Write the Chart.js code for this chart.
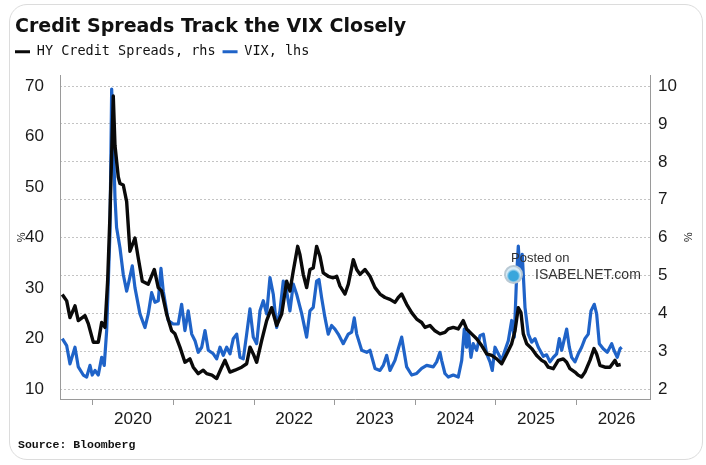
<!DOCTYPE html>
<html>
<head>
<meta charset="utf-8">
<script src="https://cdn.jsdelivr.net/npm/chart.js@4.4.1/dist/chart.umd.min.js"></script>
<style>
  html, body { margin: 0; padding: 0; background: #fff; }
  body { width: 706px; height: 465px; position: relative; overflow: hidden; }
  .card { position: absolute; left: 9px; top: 4px; width: 692px; height: 454px; border: 1px solid #dcdcdc; border-radius: 18px; }
  #chart { position: absolute; left: 0; top: 0; }
  .title { position: absolute; left: 15px; top: 14px; line-height: 24px; font: bold 19px "DejaVu Sans", sans-serif; color: #111; white-space: nowrap; }
  .source { position: absolute; left: 18px; top: 438px; line-height: 16px; font: bold 11.5px "Liberation Mono", monospace; color: #111; }
  .mark1 { position: absolute; left: 511px; top: 250px; font: 13px "Liberation Sans", sans-serif; color: #333; }
  .mark2 { position: absolute; left: 535px; top: 266px; font: 14px "Liberation Sans", sans-serif; color: #333; }
  .logo { position: absolute; left: 504px; top: 265px; width: 15px; height: 15px; border-radius: 50%;
          border: 2px solid #b9c9d4; background: radial-gradient(circle at 50% 60%, #3aa6dc 0 40%, #d8ecf7 60%); }
</style>
</head>
<body>
<div class="card"></div>
<canvas id="chart" width="706" height="465"></canvas>
<div class="title">Credit Spreads Track the VIX Closely</div>
<div class="source">Source: Bloomberg</div>
<div class="logo"></div>
<div class="mark1">Posted on</div>
<div class="mark2">ISABELNET.com</div>
<script>
// HY credit spreads (%, right axis), sampled by decimal year
const hyYears = [
    2019.619, 2019.674, 2019.715, 2019.777, 2019.818, 2019.901, 2019.942, 2020.004, 2020.066, 2020.108,
    2020.149, 2020.182, 2020.211, 2020.252, 2020.273, 2020.314, 2020.335, 2020.376, 2020.418, 2020.459,
    2020.521, 2020.562, 2020.612, 2020.686, 2020.761, 2020.810, 2020.852, 2020.914, 2020.976, 2021.017,
    2021.079, 2021.141, 2021.203, 2021.244, 2021.306, 2021.368, 2021.411, 2021.476, 2021.535, 2021.597,
    2021.638, 2021.700, 2021.762, 2021.845, 2021.907, 2021.948, 2021.989, 2022.031, 2022.093, 2022.155,
    2022.217, 2022.279, 2022.341, 2022.403, 2022.444, 2022.485, 2022.540, 2022.568, 2022.609, 2022.651,
    2022.692, 2022.733, 2022.775, 2022.816, 2022.857, 2022.919, 2022.981, 2023.024, 2023.065, 2023.127,
    2023.168, 2023.230, 2023.272, 2023.313, 2023.375, 2023.437, 2023.499, 2023.561, 2023.623, 2023.685,
    2023.747, 2023.788, 2023.830, 2023.892, 2023.954, 2024.016, 2024.078, 2024.119, 2024.181, 2024.243,
    2024.305, 2024.367, 2024.408, 2024.470, 2024.532, 2024.594, 2024.636, 2024.698, 2024.760, 2024.822,
    2024.885, 2024.947, 2025.009, 2025.071, 2025.133, 2025.195, 2025.236, 2025.277, 2025.310, 2025.339,
    2025.381, 2025.443, 2025.505, 2025.567, 2025.608, 2025.649, 2025.711, 2025.773, 2025.835, 2025.877,
    2025.918, 2025.980, 2026.021, 2026.063, 2026.104, 2026.166, 2026.216, 2026.249, 2026.290, 2026.352,
    2026.414, 2026.477, 2026.505, 2026.547
];
const hySpread = [
    4.50, 4.33, 3.89, 4.20, 3.81, 3.94, 3.73, 3.24, 3.24, 3.76,
    3.63, 4.85, 6.60, 9.74, 8.44, 7.60, 7.43, 7.39, 6.95, 5.64,
    5.99, 5.46, 4.85, 4.77, 5.16, 4.68, 4.59, 3.98, 3.54, 3.46,
    3.11, 2.71, 2.80, 2.58, 2.41, 2.50, 2.41, 2.37, 2.28, 2.58,
    2.76, 2.45, 2.50, 2.58, 2.67, 3.11, 2.93, 2.71, 3.28, 3.81,
    4.15, 3.68, 3.98, 4.85, 4.59, 5.12, 5.77, 5.55, 5.03, 4.68,
    5.16, 5.20, 5.77, 5.51, 5.07, 4.98, 4.94, 4.98, 4.72, 4.51,
    4.77, 5.42, 5.16, 5.03, 5.16, 4.98, 4.68, 4.51, 4.42, 4.37,
    4.29, 4.42, 4.51, 4.24, 4.02, 3.85, 3.76, 3.63, 3.68, 3.54,
    3.46, 3.50, 3.59, 3.63, 3.59, 3.81, 3.59, 3.46, 3.33, 3.15,
    2.93, 2.89, 2.80, 2.67, 2.93, 3.20, 3.54, 4.15, 4.02, 3.46,
    3.20, 3.07, 2.89, 2.76, 2.71, 2.58, 2.54, 2.76, 2.80, 2.71,
    2.54, 2.45, 2.37, 2.32, 2.45, 2.76, 3.07, 2.93, 2.63, 2.58,
    2.58, 2.76, 2.63, 2.65
];

// VIX (left axis), sampled by decimal year
const vixYears = [
    2019.619, 2019.674, 2019.715, 2019.777, 2019.818, 2019.880, 2019.922, 2019.963, 2019.991, 2020.025,
    2020.066, 2020.108, 2020.140, 2020.170, 2020.211, 2020.232, 2020.252, 2020.273, 2020.293, 2020.335,
    2020.376, 2020.418, 2020.447, 2020.488, 2020.521, 2020.583, 2020.645, 2020.686, 2020.728, 2020.769,
    2020.810, 2020.844, 2020.872, 2020.934, 2020.996, 2021.058, 2021.100, 2021.141, 2021.182, 2021.225,
    2021.266, 2021.306, 2021.349, 2021.390, 2021.431, 2021.493, 2021.535, 2021.576, 2021.617, 2021.659,
    2021.700, 2021.741, 2021.783, 2021.824, 2021.865, 2021.907, 2021.948, 2021.989, 2022.031, 2022.072,
    2022.113, 2022.155, 2022.196, 2022.237, 2022.279, 2022.320, 2022.361, 2022.395, 2022.444, 2022.485,
    2022.527, 2022.589, 2022.651, 2022.692, 2022.733, 2022.775, 2022.804, 2022.837, 2022.878, 2022.919,
    2022.961, 2023.002, 2023.043, 2023.105, 2023.168, 2023.210, 2023.242, 2023.272, 2023.334, 2023.396,
    2023.437, 2023.499, 2023.561, 2023.602, 2023.644, 2023.685, 2023.747, 2023.788, 2023.830, 2023.892,
    2023.954, 2024.016, 2024.078, 2024.140, 2024.222, 2024.264, 2024.305, 2024.326, 2024.367, 2024.408,
    2024.470, 2024.532, 2024.575, 2024.607, 2024.636, 2024.656, 2024.690, 2024.718, 2024.760, 2024.802,
    2024.843, 2024.885, 2024.926, 2024.954, 2024.988, 2025.029, 2025.071, 2025.112, 2025.153, 2025.195,
    2025.227, 2025.257, 2025.277, 2025.301, 2025.326, 2025.360, 2025.401, 2025.443, 2025.484, 2025.525,
    2025.587, 2025.629, 2025.670, 2025.711, 2025.753, 2025.786, 2025.815, 2025.835, 2025.877, 2025.910,
    2025.939, 2025.980, 2026.021, 2026.063, 2026.104, 2026.145, 2026.179, 2026.220, 2026.249, 2026.282,
    2026.331, 2026.381, 2026.436, 2026.464, 2026.505, 2026.539, 2026.560
];
const vixLevel = [
    20.0, 18.6, 15.0, 18.3, 14.4, 12.8, 12.4, 14.7, 12.8, 13.7,
    12.8, 16.3, 14.7, 21.6, 41.0, 69.4, 60.0, 48.0, 42.0, 38.0,
    32.7, 29.4, 31.4, 34.4, 30.1, 24.9, 22.2, 24.9, 29.1, 27.2,
    27.5, 33.9, 29.4, 23.6, 22.9, 22.9, 26.8, 21.6, 25.5, 20.9,
    19.6, 17.3, 18.3, 21.6, 17.7, 17.0, 16.0, 18.3, 16.7, 18.3,
    17.0, 20.0, 20.9, 16.3, 16.0, 20.9, 25.9, 20.3, 19.0, 25.5,
    27.5, 24.9, 32.1, 28.8, 22.2, 25.5, 31.4, 30.1, 25.5, 30.8,
    28.8, 25.0, 20.3, 25.5, 26.2, 31.4, 31.7, 28.1, 24.2, 20.9,
    22.6, 21.9, 20.9, 19.0, 20.9, 21.3, 24.1, 20.9, 17.7, 17.3,
    17.7, 14.1, 13.7, 14.7, 16.7, 13.7, 15.7, 18.0, 20.3, 14.4,
    12.8, 13.1, 14.1, 14.7, 14.4, 15.4, 17.3, 15.7, 13.1, 12.4,
    12.8, 12.4, 15.7, 21.9, 18.3, 21.6, 16.3, 19.0, 17.7, 20.6,
    20.9, 17.0, 15.4, 13.7, 18.3, 17.0, 15.7, 17.7, 19.6, 23.6,
    20.3, 32.7, 38.3, 32.1, 36.7, 26.2, 20.9, 19.3, 20.0, 18.3,
    16.5, 16.8, 15.4, 16.3, 17.0, 20.0, 17.7, 19.0, 21.9, 18.3,
    16.3, 15.4, 17.0, 18.3, 20.0, 20.9, 25.5, 26.8, 24.9, 19.0,
    18.0, 17.3, 19.0, 17.7, 16.3, 18.0, 18.3
];

const yearTicks = [2020, 2021, 2022, 2023, 2024, 2025, 2026];
const vixTicks = [10, 20, 30, 40, 50, 60, 70];
const hyTicks = [2, 3, 4, 5, 6, 7, 8, 9, 10];

const BLACK = '#0a0a0a';
const BLUE = '#1f63c8';
const AXIS = '#9a9a9a';
const TEXT = '#1a1a1a';

Chart.defaults.font.family = '"Liberation Sans", Arial, sans-serif';
Chart.defaults.color = TEXT;

const toPoints = (xs, ys) => xs.map((x, i) => ({ x, y: ys[i] }));

// leave a little more room under the legend before the plot starts
const legendGap = {
    id: 'legendGap',
    afterInit(chart) {
        const fit = chart.legend.fit;
        chart.legend.fit = function () {
            fit.call(this);
            this.height += 7;
        };
    }
};

new Chart(document.getElementById('chart'), {
    type: 'line',
    data: {
        datasets: [
            {
                label: 'HY Credit Spreads, rhs',
                data: toPoints(hyYears, hySpread),
                yAxisID: 'yR',
                borderColor: BLACK,
                backgroundColor: BLACK,
                borderWidth: 3.4,
                pointRadius: 0,
                tension: 0,
                borderJoinStyle: 'round'
            },
            {
                label: 'VIX, lhs',
                data: toPoints(vixYears, vixLevel),
                yAxisID: 'yL',
                borderColor: BLUE,
                backgroundColor: BLUE,
                borderWidth: 3.2,
                pointRadius: 0,
                tension: 0,
                borderJoinStyle: 'round'
            }
        ]
    },
    options: {
        responsive: false,
        animation: false,
        layout: { padding: { top: 38, left: 8, right: 12, bottom: 36 } },
        plugins: {
            tooltip: { enabled: false },
            legend: {
                position: 'top',
                align: 'start',
                labels: {
                    font: { family: '"DejaVu Sans Mono", monospace', size: 13.5 },
                    color: '#111',
                    boxWidth: 15,
                    boxHeight: 3,
                    padding: 7,
                    generateLabels: chart => Chart.defaults.plugins.legend.labels.generateLabels(chart)
                        .map(l => Object.assign(l, { lineWidth: 0, fillStyle: l.strokeStyle }))
                }
            }
        },
        scales: {
            x: {
                type: 'linear',
                min: 2019.591,
                max: 2026.911,
                afterBuildTicks: s => { s.ticks = yearTicks.map(v => ({ value: v })); },
                afterFit: s => { s.height = 30; },
                grid: { display: true, drawOnChartArea: false, drawTicks: true, tickLength: 6, color: AXIS },
                border: { display: true, color: AXIS },
                ticks: {
                    autoSkip: false,
                    maxRotation: 0,
                    labelOffset: 40,
                    padding: 4,
                    font: { size: 17 },
                    callback: v => String(v)
                }
            },
            yL: {
                position: 'left',
                min: 8.05,
                max: 72.1,
                afterBuildTicks: s => { s.ticks = vixTicks.map(v => ({ value: v })); },
                afterFit: s => { s.width = 52; },
                grid: { display: false },
                border: { display: true, color: AXIS },
                ticks: { padding: 8, font: { size: 17 } },
                title: { display: true, text: '%', font: { size: 11 }, padding: { top: 7, bottom: 0 } }
            },
            yR: {
                position: 'right',
                min: 1.74,
                max: 10.28,
                afterBuildTicks: s => { s.ticks = hyTicks.map(v => ({ value: v })); },
                afterFit: s => { s.width = 44; },
                grid: { display: true, drawOnChartArea: true, drawTicks: false, color: '#c4c4c4' },
                border: { display: true, color: AXIS, dash: [2, 2] },
                ticks: { padding: 8, font: { size: 17 } },
                title: { display: true, text: '%', font: { size: 11 }, padding: { top: 0, bottom: 0 } }
            }
        }
    },
    plugins: [legendGap]
});
</script>
</body>
</html>
